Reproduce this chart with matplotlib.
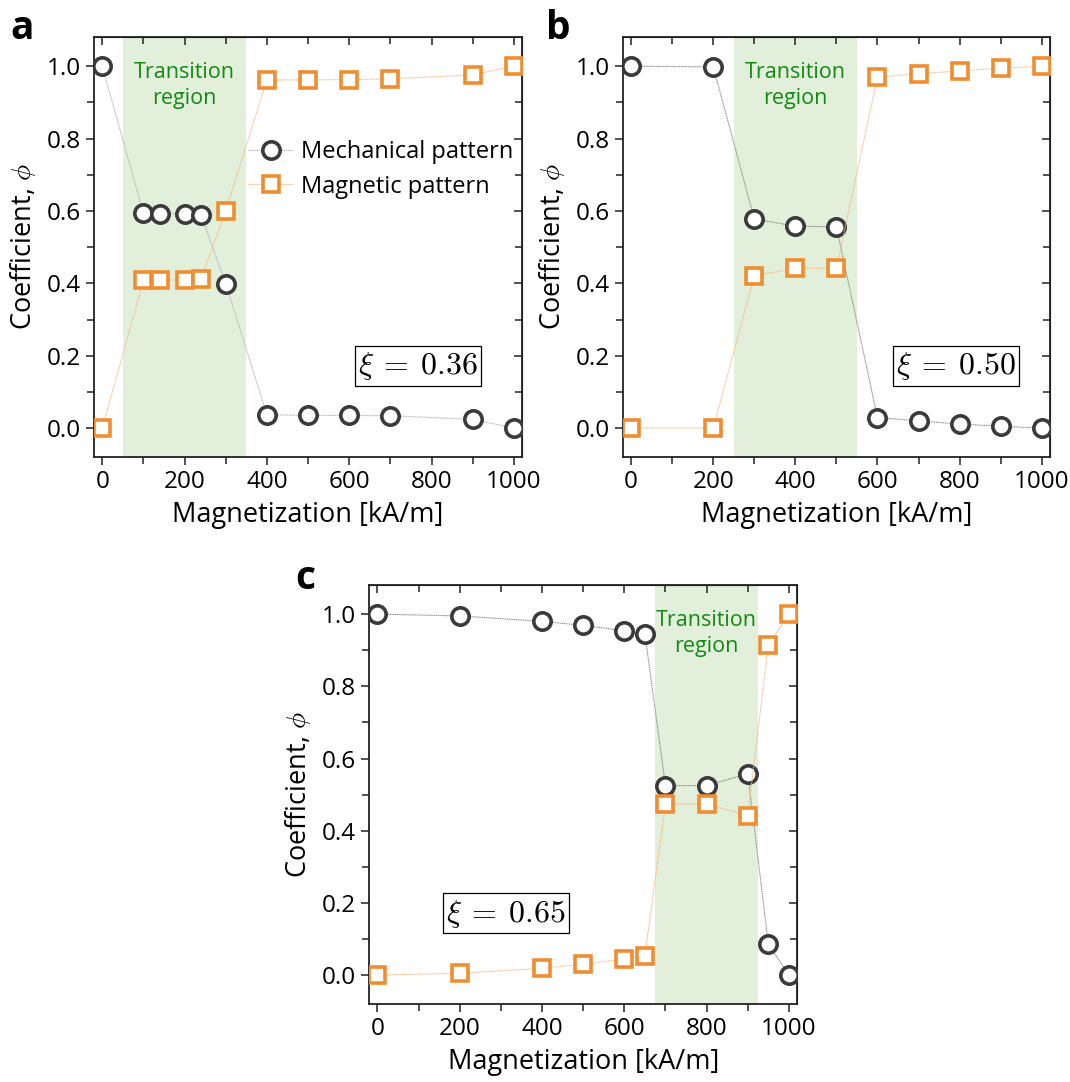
import matplotlib
matplotlib.use("Agg")
import matplotlib.pyplot as plt
from matplotlib.ticker import MultipleLocator

plt.rcParams['font.family'] = ['Open Sans', 'DejaVu Sans']
plt.rcParams['mathtext.fontset'] = 'cm'

# panel a, xi = 0.36
mag_a = [0, 100, 140, 200, 240, 300, 400, 500, 600, 700, 900, 1000]
mech_a = [1.0, 0.593, 0.592, 0.592, 0.589, 0.399, 0.037, 0.035, 0.035, 0.034, 0.024, 0.0]
magn_a = [0.0, 0.408, 0.408, 0.410, 0.412, 0.601, 0.962, 0.962, 0.963, 0.965, 0.976, 1.0]
trans_a = (50, 350)

# panel b, xi = 0.50
mag_b = [0, 200, 300, 400, 500, 600, 700, 800, 900, 1000]
mech_b = [1.0, 0.998, 0.578, 0.558, 0.556, 0.029, 0.020, 0.011, 0.005, 0.0]
magn_b = [0.0, 0.0, 0.421, 0.441, 0.442, 0.970, 0.979, 0.987, 0.994, 1.0]
trans_b = (250, 550)

# panel c, xi = 0.65
mag_c = [0, 200, 400, 500, 600, 650, 700, 800, 900, 950, 1000]
mech_c = [1.0, 0.995, 0.980, 0.969, 0.954, 0.946, 0.525, 0.525, 0.558, 0.086, 0.0]
magn_c = [0.0, 0.005, 0.019, 0.030, 0.045, 0.054, 0.474, 0.474, 0.442, 0.915, 1.0]
trans_c = (675, 925)

xi_labels = ['$\\xi\\:=\\:0.36$', '$\\xi\\:=\\:0.50$', '$\\xi\\:=\\:0.65$']

DARK = '#3a3a3a'
ORANGE = '#ef8d2f'

fig = plt.figure(figsize=(10.7, 10.82), dpi=100)
ax_a = fig.add_axes([0.0879, 0.5776, 0.400, 0.388])
ax_b = fig.add_axes([0.5822, 0.5776, 0.399, 0.388])
ax_c = fig.add_axes([0.345, 0.0721, 0.400, 0.387])


def panel(ax, xs, mech, magn, trans, xi, xi_pos, trans_x, mech_line='#8a8a8a'):
    ax.axvspan(trans[0], trans[1], color='#e2efda', lw=0, zorder=0)
    ax.plot(xs, mech, ls=(0, (1, 0.6)), lw=0.8, color=mech_line,
            marker='o', ms=12.5, mfc='white', mec=DARK, mew=2.6,
            label='Mechanical pattern', zorder=3)
    ax.plot(xs, magn, ls=(0, (1, 0.6)), lw=0.8, color='#f6b98a',
            marker='s', ms=11, mfc='white', mec=ORANGE, mew=2.6,
            label='Magnetic pattern', zorder=3)
    ax.set_xlim(-20, 1020)
    ax.set_ylim(-0.08, 1.08)
    ax.xaxis.set_major_locator(MultipleLocator(200))
    ax.xaxis.set_minor_locator(MultipleLocator(100))
    ax.yaxis.set_major_locator(MultipleLocator(0.2))
    ax.yaxis.set_minor_locator(MultipleLocator(0.1))
    ax.yaxis.set_major_formatter(lambda v, p: '%.1f' % v)
    ax.tick_params(which='both', direction='out', labelsize=17.5, color='#222222')
    ax.tick_params(which='major', length=6, width=1.1)
    ax.tick_params(which='minor', length=5, width=1.1)
    for sp in ax.spines.values():
        sp.set_linewidth(1.3)
        sp.set_color('#222222')
    # mirrored ticks pointing inwards on top and right
    top = ax.secondary_xaxis('top')
    top.xaxis.set_major_locator(MultipleLocator(200))
    top.xaxis.set_minor_locator(MultipleLocator(100))
    top.tick_params(which='both', direction='in', labeltop=False, width=1.1, color='#222222')
    top.tick_params(which='major', length=6)
    top.tick_params(which='minor', length=5)
    right = ax.secondary_yaxis('right')
    right.yaxis.set_major_locator(MultipleLocator(0.2))
    right.yaxis.set_minor_locator(MultipleLocator(0.1))
    right.tick_params(which='both', direction='in', labelright=False, width=1.1, color='#222222')
    right.tick_params(which='major', length=6)
    right.tick_params(which='minor', length=5)
    ax.set_xlabel('Magnetization [kA/m]', fontsize=19.5, labelpad=5)
    ax.set_ylabel('Coefficient, $\\phi$', fontsize=19.5, labelpad=6)
    ax.text(trans_x, 0.885, 'Transition\nregion', transform=ax.get_xaxis_transform(),
            ha='center', va='center', fontsize=15.5, color='#138a13', linespacing=1.35)
    ax.text(xi_pos[0], xi_pos[1], xi, transform=ax.transAxes, ha='center', va='center',
            fontsize=23, bbox=dict(boxstyle='square,pad=0.1', fc='white', ec='black', lw=0.9))


panel(ax_a, mag_a, mech_a, magn_a, trans_a, xi_labels[0], (0.757, 0.217), 200, '#b5b5b5')
panel(ax_b, mag_b, mech_b, magn_b, trans_b, xi_labels[1], (0.780, 0.217), 400)
panel(ax_c, mag_c, mech_c, magn_c, trans_c, xi_labels[2], (0.320, 0.217), 800)

ax_a.legend(loc='upper left', bbox_to_anchor=(0.36, 0.755), frameon=False, fontsize=17,
            handlelength=1.9, handletextpad=0.35, borderaxespad=0, borderpad=0, labelspacing=0.45)

fig.text(10 / 1070, 1 - 39 / 1082, 'a', fontsize=28, fontweight='bold')
fig.text(546 / 1070, 1 - 39 / 1082, 'b', fontsize=28, fontweight='bold')
fig.text(295 / 1070, 1 - 589 / 1082, 'c', fontsize=28, fontweight='bold')

fig.savefig('out.png', dpi=100)
